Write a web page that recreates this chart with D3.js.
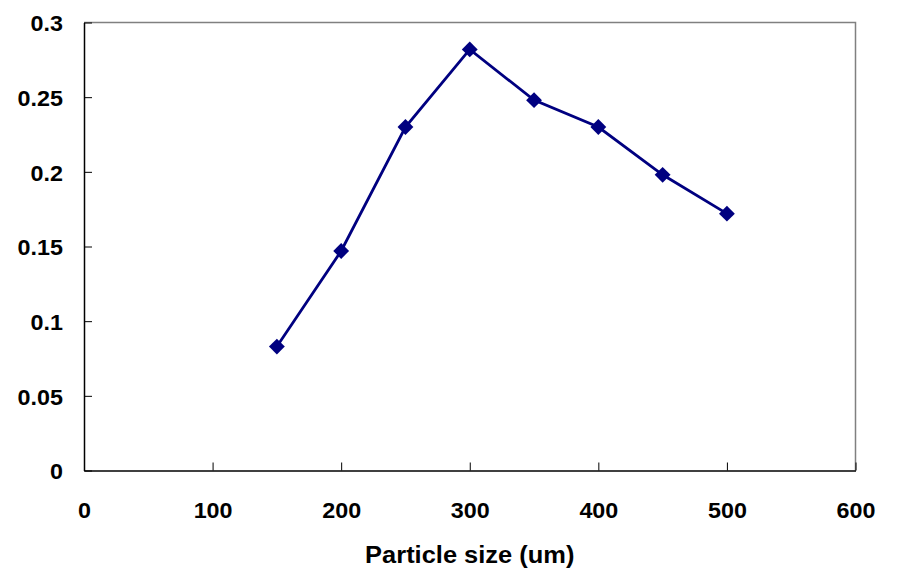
<!DOCTYPE html>
<head>
  <meta charset="utf-8">
  <script src="https://d3js.org/d3.v7.min.js"></script>
  <style>
    body { margin: 0; background: #fff; }
    text { font-family: Arial, "Liberation Sans", sans-serif; font-weight: bold; fill: #000; }
    .line { fill: none; stroke: #000080; stroke-width: 2.8px; }
  </style>
</head>
<body>
  <script>
    // Particle size (um) vs. value
    var sizes = [150, 200, 250, 300, 350, 400, 450, 500];
    var values = [0.083, 0.147, 0.230, 0.282, 0.248, 0.230, 0.198, 0.172];
    var xTicks = [0, 100, 200, 300, 400, 500, 600];
    var yTicks = [0, 0.05, 0.1, 0.15, 0.2, 0.25, 0.3];

    var data = sizes.map(function(s, i) { return { size: s, value: values[i] }; });

    var svg = d3.select("body").append("svg")
      .attr("width", 909)
      .attr("height", 575);

    var mLeft = 84, mTop = 22.5, mRight = 855.5, mBottom = 470.5;

    var x = d3.scaleLinear().domain([0, 600]).range([mLeft, mRight]);
    var y = d3.scaleLinear().domain([0, 0.3]).range([mBottom, mTop]);

    // grey frame on top and right
    svg.append("path")
      .attr("d", "M" + mLeft + "," + mTop + "H" + mRight + "V" + mBottom)
      .attr("fill", "none")
      .attr("stroke", "#808080")
      .attr("stroke-width", 1.5);

    var xAxis = svg.append("g")
      .attr("transform", "translate(0," + mBottom + ")")
      .call(d3.axisBottom(x).tickValues(xTicks).tickSizeInner(-8).tickSizeOuter(0).tickPadding(32));

    var yAxis = svg.append("g")
      .attr("transform", "translate(" + mLeft + ",0)")
      .call(d3.axisLeft(y).tickValues(yTicks).tickSizeInner(-8).tickSizeOuter(0).tickPadding(21)
        .tickFormat(function(d) { return String(+d.toFixed(2)); }));

    [xAxis, yAxis].forEach(function(a) {
      a.select(".domain").attr("stroke", "#000").attr("stroke-width", 1.5);
      a.selectAll(".tick line").attr("stroke", "#000");
      a.selectAll(".tick text")
        .style("font-size", "22px")
        .style("font-family", "Arial, 'Liberation Sans', sans-serif")
        .attr("fill", "#000");
    });
    xAxis.selectAll(".tick text").attr("dy", "0.71em");
    yAxis.selectAll(".tick text").attr("dy", "0.38em");

    svg.append("text")
      .attr("x", (mLeft + mRight) / 2)
      .attr("y", 563)
      .attr("text-anchor", "middle")
      .style("font-size", "24px")
      .text("Particle size (um)");

    // the original lettering is a little wider than Arial
    svg.selectAll("text").each(function() {
      var w = this.getComputedTextLength();
      d3.select(this).attr("textLength", w * 1.06).attr("lengthAdjust", "spacingAndGlyphs");
    });

    var line = d3.line()
      .x(function(d) { return x(d.size); })
      .y(function(d) { return y(d.value); });

    svg.append("path").datum(data)
      .attr("class", "line")
      .attr("d", line);

    svg.selectAll(".marker").data(data).enter()
      .append("path")
      .attr("class", "marker")
      .attr("d", d3.symbol().type(d3.symbolDiamond2).size(160))
      .attr("transform", function(d) { return "translate(" + x(d.size) + "," + y(d.value) + ")"; })
      .attr("fill", "#000080");
  </script>
</body>
